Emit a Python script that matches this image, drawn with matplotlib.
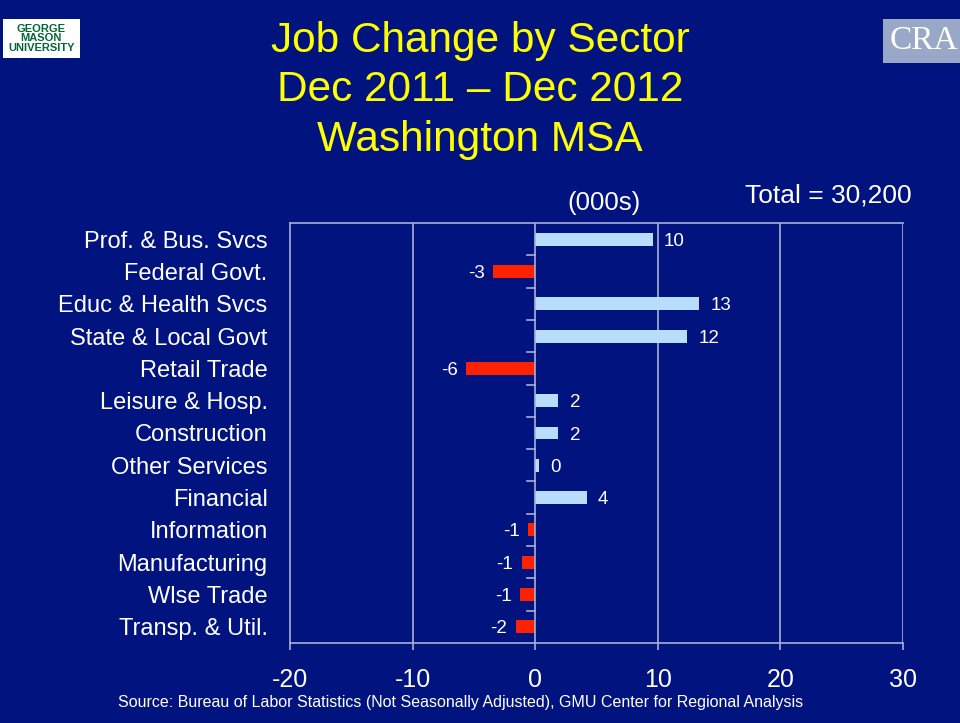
import matplotlib.pyplot as plt

plt.rcParams['font.family'] = ['Liberation Sans', 'DejaVu Sans']

# job change by sector, thousands
sectors = ["Prof. & Bus. Svcs", "Federal Govt.", "Educ & Health Svcs", "State & Local Govt",
           "Retail Trade", "Leisure & Hosp.", "Construction", "Other Services", "Financial",
           "Information", "Manufacturing", "Wlse Trade", "Transp. & Util."]
change = [9.6, -3.4, 13.4, 12.4, -5.6, 1.9, 1.9, 0.3, 4.2, -0.6, -1.1, -1.2, -1.6]
xticks = [-20, -10, 0, 10, 20, 30]

bg = "#00137f"
line_col = "#a9b0d6"

fig = plt.figure(figsize=(9.6, 7.23), dpi=100, facecolor=bg)
ax = fig.add_axes([0.302, 0.1107, 0.6386, 0.5809])
ax.set_facecolor(bg)

ypos = list(range(len(sectors)))
colors = ["#b9ddfc" if v >= 0 else "#ff2200" for v in change]
ax.barh(ypos, change, height=0.4, color=colors, zorder=3)

for y, v in zip(ypos, change):
    lab = "%d" % int(round(v + (0.001 if v > 0 else -0.001)))
    if v >= 0:
        ax.annotate(lab, (v, y), xytext=(8, -1.5), textcoords="offset points",
                    ha="left", va="center", color="white", fontsize=13.5)
    else:
        ax.annotate(lab, (v, y), xytext=(-6, -1.5), textcoords="offset points",
                    ha="right", va="center", color="white", fontsize=13.5)

ax.set_xlim(-20, 30)
ax.set_ylim(len(sectors) - 0.5, -0.5)
ax.set_xticks(xticks)
ax.set_xticklabels([str(t) for t in xticks], color="white", fontsize=18)
ax.tick_params(axis="x", colors=line_col, labelcolor="white", length=5, width=1.2, pad=13)
ax.set_yticks(ypos)
ax.set_yticklabels(sectors, color="white", fontsize=17)
ax.tick_params(axis="y", length=0, pad=16)

for x in [-10, 10, 20, 30]:
    ax.axvline(x, color=line_col, lw=1.2, zorder=1)
ax.axvline(0, color=line_col, lw=1.2, zorder=4)
# category separator ticks on zero line
for b in range(len(sectors) - 1):
    ax.plot([-0.7, 0], [b + 0.5, b + 0.5], color=line_col, lw=1.2, zorder=4)

for s in ["left", "top", "bottom"]:
    ax.spines[s].set_color(line_col)
    ax.spines[s].set_linewidth(1.2)
ax.spines["right"].set_visible(False)

fig.text(0.5, 0.875, "Job Change by Sector\nDec 2011 \u2013 Dec 2012\nWashington MSA",
         ha="center", va="center", color="#ffff00", fontsize=30.5, linespacing=1.3)
fig.text(0.629, 0.719, "(000s)", ha="center", va="center", color="white", fontsize=18.5)
fig.text(0.95, 0.729, "Total = 30,200", ha="right", va="center", color="white", fontsize=19)
fig.text(0.48, 0.028, "Source: Bureau of Labor Statistics (Not Seasonally Adjusted), GMU Center for Regional Analysis",
         ha="center", va="center", color="white", fontsize=11.5)

# logo placeholders
fig.text(0.043, 0.947, "GEORGE\nMASON\nUNIVERSITY", ha="center", va="center", color="#006633",
         fontsize=8, fontweight="bold", linespacing=0.95,
         bbox=dict(boxstyle="square,pad=0.45", fc="white", ec="none"))
fig.text(0.962, 0.943, "CRA", ha="center", va="center", color="white", fontsize=24,
         family="Liberation Serif",
         bbox=dict(boxstyle="square,pad=0.2", fc="#9aa8c8", ec="none"))

fig.savefig("out.png", dpi=100, facecolor=bg)
